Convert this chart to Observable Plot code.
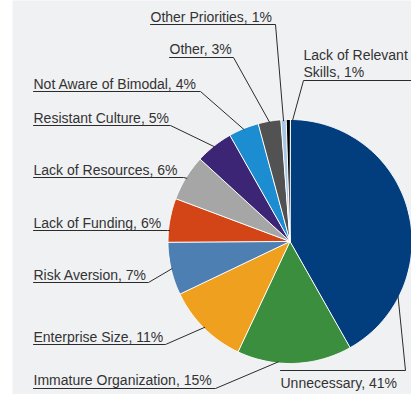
<!DOCTYPE html>
<html><head><meta charset="utf-8">
<script src="https://cdn.jsdelivr.net/npm/d3@7"></script>
<script src="https://cdn.jsdelivr.net/npm/@observablehq/plot@0.6"></script>
<style>html,body{margin:0;padding:0;background:#fff;} svg{display:block}</style>
</head><body><div id="chart"></div>
<script>
// ---- data ----
const categories = ["Unnecessary","Immature Organization","Enterprise Size","Risk Aversion","Lack of Funding","Lack of Resources","Resistant Culture","Not Aware of Bimodal","Other","Other Priorities","Lack of Relevant Skills"];
const shares = [41.8,15.2,10.9,7.0,5.8,6.1,5.0,4.0,3.0,0.7,0.5];
const shareLabels = ["41%","15%","11%","7%","6%","6%","5%","4%","3%","1%","1%"];
const labelTexts = ["Unnecessary","Immature Organization","Enterprise Size","Risk Aversion","Lack of Funding","Lack of Resources","Resistant Culture","Not Aware of Bimodal","Other","Other Priorities","Lack of Relevant\nSkills"];
const colors = ["#023e7e","#3a8e3d","#f0a01f","#4e7fb2","#d34517","#a6a6a6","#3c2574","#1d8dd2","#525252","#a8c7e4","#000000"];

// ---- layout (pixel positions of labels, not data) ----
const W = 411, H = 394;
const cx = 289.5, cy = 241, R = 122;
// baseline y, text x, underline y, underline x1/x2, which end joins the leader, leader angle override (deg)
const labelLayout = [
  {tx:280, ty:387, uy:370, ux1:280, ux2:405, join:"end", angle:116.8},
  {tx:33,  ty:384, uy:388, ux1:33,  ux2:215, join:"end", angle:185.6},
  {tx:33,  ty:341, uy:344, ux1:33,  ux2:165, join:"end"},
  {tx:33,  ty:279, uy:282, ux1:33,  ux2:148, join:"end"},
  {tx:33,  ty:227, uy:230, ux1:33,  ux2:167, join:"end", angle:275.2},
  {tx:33,  ty:174, uy:177, ux1:33,  ux2:183, join:"end"},
  {tx:33,  ty:122, uy:125, ux1:33,  ux2:170, join:"end"},
  {tx:33,  ty:88,  uy:91,  ux1:33,  ux2:200, join:"end"},
  {tx:169, ty:53,  uy:57,  ux1:169, ux2:233, join:"end"},
  {tx:150, ty:21,  uy:24,  ux1:150, ux2:275, join:"end"},
  {tx:303, ty:76,  uy:80,  ux1:303, ux2:411, join:"start", angle:1.2}
];

// ---- derived geometry from data ----
const pie = d3.pie().sort(null).value(d => d.value).startAngle(0).endAngle(2*Math.PI);
const rows = categories.map((c,i) => ({cat:c, value:shares[i], i}));
const arcs = pie(rows);
const pt = (a, r) => [cx + r*Math.sin(a), cy - r*Math.cos(a)];

const slicePts = [];
arcs.forEach(a => {
  const c = a.data.cat;
  slicePts.push({cat:c, x:cx, y:cy});
  const n = Math.max(2, Math.ceil((a.endAngle - a.startAngle) / (Math.PI/360)));
  for (let k = 0; k <= n; k++) {
    const ang = a.startAngle + (a.endAngle - a.startAngle) * k / n;
    const [x,y] = pt(ang, R);
    slicePts.push({cat:c, x, y});
  }
});

const leaderPts = [];
const textRows = [];
arcs.forEach((a, i) => {
  const L = labelLayout[i];
  const ang = L.angle != null ? L.angle*Math.PI/180 : (a.startAngle + a.endAngle)/2;
  const [rx, ry] = pt(ang, R - 1);
  const c = a.data.cat;
  const seq = L.join === "end"
    ? [[L.ux1,L.uy],[L.ux2,L.uy],[rx,ry]]
    : [[L.ux2,L.uy],[L.ux1,L.uy],[rx,ry]];
  seq.forEach(([x,y]) => leaderPts.push({cat:c, x, y}));
  textRows.push({x:L.tx, y:L.ty, text: labelTexts[i] + ", " + shareLabels[i]});
});

const chart = Plot.plot({
  width: W, height: H,
  marginTop: 0, marginRight: 0, marginBottom: 0, marginLeft: 12,
  x: {type:"linear", domain:[0, W], range:[0, W], axis:null},
  y: {type:"linear", domain:[0, H], range:[0, H], axis:null},
  color: {domain: categories, range: colors},
  style: {background:"#ffffff", overflow:"hidden"},
  marks: [
    Plot.frame({fill:"#f0f1f3", stroke:null}),
    Plot.line(slicePts, {x:"x", y:"y", z:"cat", fill:"cat", stroke:"#ffffff", strokeWidth:1, curve:"linear-closed"}),
    Plot.line(leaderPts, {x:"x", y:"y", z:"cat", stroke:"#2b2b2b", strokeWidth:1}),
    Plot.text(textRows, {x:"x", y:"y", text:"text", textAnchor:"start", lineAnchor:"bottom", lineHeight:1.15,
      fontSize:14, fontFamily:"'Liberation Sans', Arial, sans-serif", fill:"#333333"})
  ]
});
document.getElementById("chart").appendChild(chart);
</script>
</body></html>
